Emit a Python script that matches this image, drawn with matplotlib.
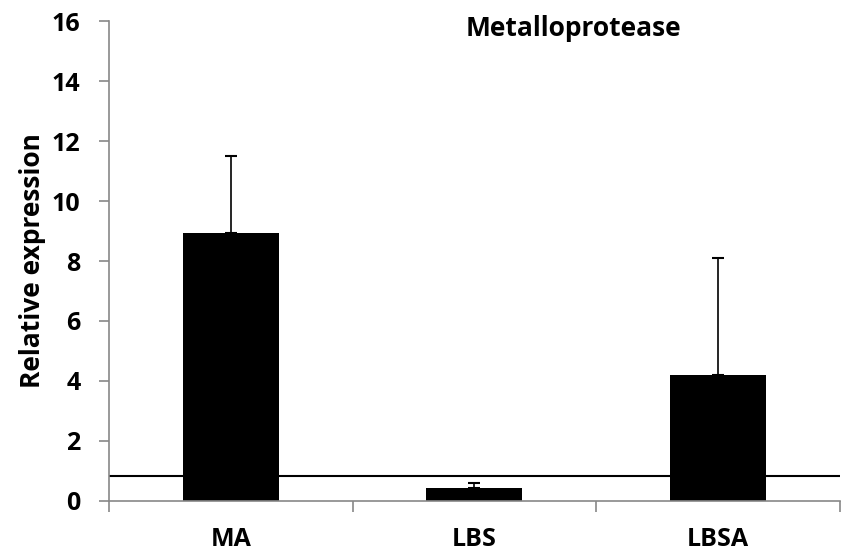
import numpy as np
import matplotlib.pyplot as plt

plt.rcParams['font.family'] = ['Open Sans', 'DejaVu Sans']
plt.rcParams['font.weight'] = 'bold'

categories = ['MA', 'LBS', 'LBSA']
values = [8.93, 0.43, 4.19]
errors = [2.57, 0.14, 3.91]
baseline = 0.83

fig = plt.figure(figsize=(8.41, 5.51), dpi=100)
ax = fig.add_axes([0.1296, 0.0916, 0.869, 0.8694])

x = np.arange(len(categories))
ax.bar(x, values, width=0.394, color='black', zorder=2)
ax.errorbar(x, values, yerr=[np.zeros(len(errors)), errors], fmt='none',
            ecolor='black', elinewidth=1.2, capsize=4.5, capthick=1.5, zorder=3)
ax.axhline(baseline, color='black', lw=1.5, zorder=1)

ax.set_xlim(-0.5, 2.5)
ax.set_ylim(0, 16)
ax.set_yticks(np.arange(0, 17, 2))
ax.set_xticks(x)
ax.set_xticklabels(categories, fontsize=18, fontweight='bold')
ax.set_xticks([-0.5, 0.5, 1.5, 2.5], minor=True)
ax.tick_params(axis='x', which='major', length=0, pad=19)
ax.tick_params(axis='x', which='minor', length=8, color='#888888', width=1.2)
ax.tick_params(axis='y', length=7.5, color='#888888', width=1.2, pad=13, labelsize=18)
for lab in ax.get_yticklabels():
    lab.set_fontweight('bold')

for s in ['top', 'right']:
    ax.spines[s].set_visible(False)
for s in ['left', 'bottom']:
    ax.spines[s].set_color('#888888')
    ax.spines[s].set_linewidth(1.2)

ax.set_ylabel('Relative expression', fontsize=19, fontweight='bold', labelpad=4)
ax.text(0.636, 0.985, 'Metalloprotease', transform=ax.transAxes, ha='center',
        va='center', fontsize=19, fontweight='bold')

fig.savefig('out.png', dpi=100)
